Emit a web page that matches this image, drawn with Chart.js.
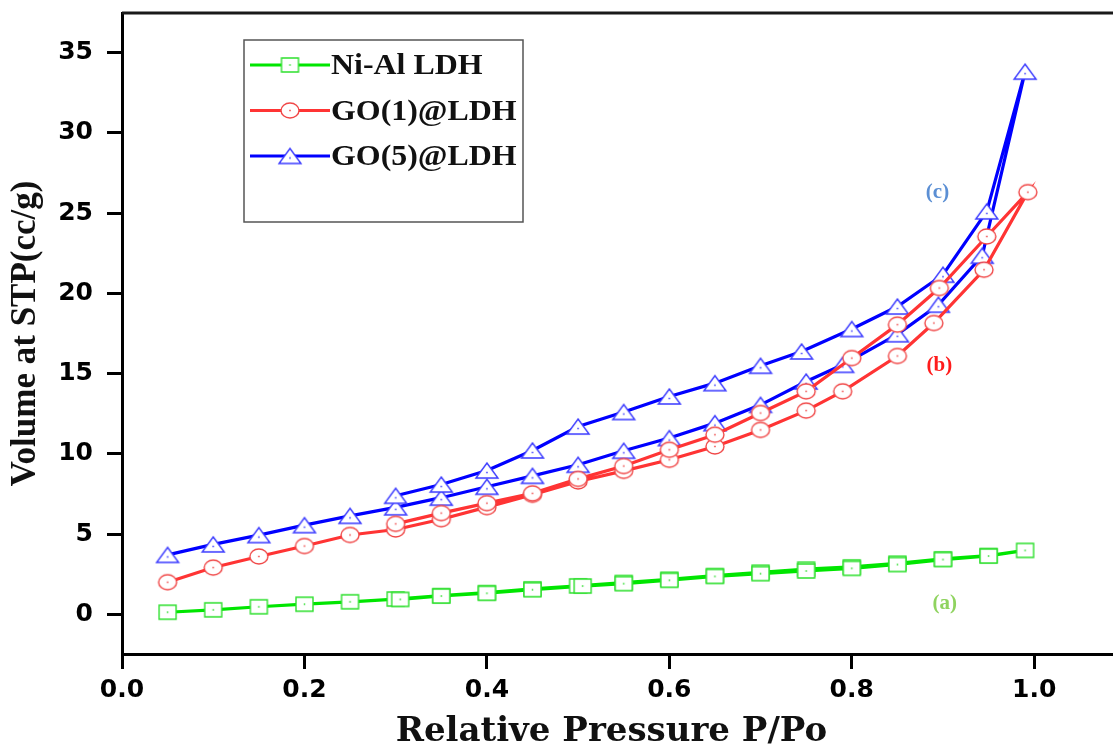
<!DOCTYPE html>
<html>
<head>
<meta charset="utf-8">
<title>BET isotherms</title>
<script src="https://cdn.jsdelivr.net/npm/chart.js@4.4.1/dist/chart.umd.min.js"></script>
<style>
  html, body { margin: 0; padding: 0; background: #fff; }
  #wrap { width: 1113px; height: 746px; position: relative; }
</style>
</head>
<body>
<div id="wrap"><canvas id="isoChart"></canvas></div>
<script>
// Ni-Al LDH (a)
const pNiAlAds = [0.05, 0.10, 0.15, 0.20, 0.25, 0.30, 0.35, 0.40, 0.45, 0.50, 0.55, 0.60, 0.65, 0.70, 0.75, 0.80, 0.85, 0.90, 0.95, 0.99];
const vNiAlAds = [0.15, 0.30, 0.49, 0.65, 0.80, 0.97, 1.18, 1.37, 1.60, 1.79, 2.00, 2.20, 2.43, 2.64, 2.83, 2.97, 3.20, 3.47, 3.68, 4.00];
const pNiAlDes = [0.95, 0.90, 0.85, 0.80, 0.75, 0.70, 0.65, 0.60, 0.55, 0.505, 0.45, 0.40, 0.35, 0.305];
const vNiAlDes = [3.65, 3.43, 3.12, 2.88, 2.72, 2.55, 2.38, 2.14, 1.93, 1.78, 1.55, 1.33, 1.16, 0.95];

// GO(1)@LDH (b)
const pGO1Ads = [0.05, 0.10, 0.15, 0.20, 0.25, 0.30, 0.35, 0.40, 0.45, 0.50, 0.55, 0.60, 0.65, 0.70, 0.75, 0.79, 0.85, 0.89, 0.945, 0.993];
const vGO1Ads = [2.02, 2.93, 3.62, 4.27, 4.96, 5.30, 5.94, 6.69, 7.46, 8.29, 8.95, 9.64, 10.47, 11.50, 12.70, 13.90, 16.10, 18.15, 21.47, 26.30];
const pGO1Des = [0.948, 0.896, 0.85, 0.80, 0.75, 0.70, 0.65, 0.60, 0.55, 0.50, 0.45, 0.40, 0.35, 0.30];
const vGO1Des = [23.54, 20.33, 18.05, 15.97, 13.90, 12.55, 11.20, 10.26, 9.25, 8.45, 7.55, 6.94, 6.32, 5.65];

// GO(5)@LDH (c)
const pGO5Ads = [0.05, 0.10, 0.15, 0.20, 0.25, 0.30, 0.35, 0.40, 0.45, 0.50, 0.55, 0.60, 0.65, 0.70, 0.75, 0.79, 0.85, 0.895, 0.943, 0.99];
const vGO5Ads = [3.72, 4.37, 4.95, 5.57, 6.15, 6.68, 7.28, 7.96, 8.64, 9.33, 10.20, 10.99, 11.92, 13.06, 14.51, 15.55, 17.45, 19.29, 22.34, 33.80];
const pGO5Des = [0.948, 0.90, 0.85, 0.80, 0.745, 0.70, 0.65, 0.60, 0.55, 0.50, 0.45, 0.40, 0.35, 0.30];
const vGO5Des = [25.10, 21.16, 19.18, 17.78, 16.38, 15.49, 14.41, 13.58, 12.61, 11.71, 10.22, 8.97, 8.10, 7.40];

const seriesNames = ['Ni-Al LDH', 'GO(1)@LDH', 'GO(5)@LDH'];
const curveTags = ['(a)', '(b)', '(c)'];
const tagPos = [[0.902, 0.67], [0.896, 15.5], [0.894, 26.3]];
const xTicks = [0.0, 0.2, 0.4, 0.6, 0.8, 1.0];
const yTicks = [0, 5, 10, 15, 20, 25, 30, 35];

// hollow marker images (slightly wide, like the exported plot)
function makeMarker(shape, w, h, color) {
    const c = document.createElement('canvas');
    c.width = w + 4;
    c.height = h + 4;
    const g = c.getContext('2d');
    const cx = c.width / 2, cy = c.height / 2;
    g.beginPath();
    if (shape === 'square') {
        g.rect(cx - w / 2, cy - h / 2, w, h);
    } else if (shape === 'circle') {
        g.ellipse(cx, cy, w / 2, h / 2, 0, 0, Math.PI * 2);
    } else {
        g.moveTo(cx, cy - h / 2);
        g.lineTo(cx + w / 2, cy + h / 2);
        g.lineTo(cx - w / 2, cy + h / 2);
        g.closePath();
    }
    g.fillStyle = '#fff';
    g.fill();
    g.lineWidth = 1.4;
    g.strokeStyle = color;
    g.stroke();
    g.fillStyle = color;
    g.fillRect(cx - 0.75, cy - 0.75 + (shape === 'triangle' ? 2 : 0), 1.5, 1.5);
    return c;
}

const lineColors = ['#00e600', '#ff3434', '#0000ff'];
const markers = [
    makeMarker('square', 17, 14, '#2ee02e'),
    makeMarker('circle', 18, 15, '#f04848'),
    makeMarker('triangle', 22, 15, '#3a3aff')
];

function loop(pa, va, pd, vd) {
    const pts = [];
    pa.forEach(function(p, i) { pts.push({x: p, y: va[i]}); });
    pd.forEach(function(p, i) { pts.push({x: p, y: vd[i]}); });
    return pts;
}

const loops = [
    loop(pNiAlAds, vNiAlAds, pNiAlDes, vNiAlDes),
    loop(pGO1Ads, vGO1Ads, pGO1Des, vGO1Des),
    loop(pGO5Ads, vGO5Ads, pGO5Des, vGO5Des)
];

// legend box, curve tags and the frame lines running to the canvas edge
const decorations = {
    id: 'decorations',
    afterDraw: function(chart) {
        const ctx = chart.ctx;
        const area = chart.chartArea;
        const xs = chart.scales.x, ys = chart.scales.y;
        ctx.save();

        ctx.strokeStyle = '#1a1a1a';
        ctx.lineWidth = 3;
        ctx.beginPath();
        ctx.moveTo(area.left, area.top);
        ctx.lineTo(chart.width, area.top);
        ctx.stroke();
        ctx.strokeStyle = '#000';
        ctx.beginPath();
        ctx.moveTo(area.right - 2, area.bottom + 0.5);
        ctx.lineTo(chart.width, area.bottom + 0.5);
        ctx.stroke();

        ctx.strokeStyle = '#555';
        ctx.lineWidth = 1.5;
        ctx.strokeRect(244, 40, 279, 182);
        seriesNames.forEach(function(name, i) {
            const y = 65 + i * 45.5;
            ctx.strokeStyle = lineColors[i];
            ctx.lineWidth = 3;
            ctx.beginPath();
            ctx.moveTo(250, y);
            ctx.lineTo(330, y);
            ctx.stroke();
            const m = markers[i];
            ctx.drawImage(m, 290 - m.width / 2, y - m.height / 2);
            ctx.save();
            ctx.translate(331, y + 2);
            ctx.scale(1.1, 1);
            ctx.fillStyle = '#111';
            ctx.font = 'bold 29px "Liberation Serif"';
            ctx.textBaseline = 'middle';
            ctx.textAlign = 'left';
            ctx.fillText(name, 0, 0);
            ctx.restore();
        });

        const tagColors = ['#8fd35f', '#ff1c1c', '#5b8fd4'];
        ctx.font = 'bold 21px "Liberation Serif"';
        ctx.textAlign = 'center';
        ctx.textBaseline = 'middle';
        curveTags.forEach(function(t, i) {
            ctx.fillStyle = tagColors[i];
            ctx.fillText(t, xs.getPixelForValue(tagPos[i][0]), ys.getPixelForValue(tagPos[i][1]));
        });
        ctx.restore();
    }
};

const axisGrid = {
    drawOnChartArea: false,
    drawTicks: true,
    tickLength: 15,
    tickWidth: 3,
    tickColor: '#000'
};
const tickFont = {family: 'DejaVu Sans', weight: 'bold', size: 25};

const isoChart = new Chart(document.getElementById('isoChart'), {
    type: 'scatter',
    data: {
        datasets: loops.map(function(pts, i) {
            return {
                label: seriesNames[i],
                data: pts,
                showLine: true,
                borderColor: lineColors[i],
                borderWidth: 3.2,
                tension: 0,
                pointStyle: markers[i],
                pointRadius: 9,
                pointHoverRadius: 9
            };
        })
    },
    options: {
        responsive: true,
        maintainAspectRatio: false,
        animation: false,
        layout: {padding: {top: 13, right: 0, left: 0, bottom: 0}},
        plugins: {
            legend: {display: false},
            tooltip: {enabled: false}
        },
        scales: {
            x: {
                type: 'linear',
                min: 0,
                max: 1.073,
                afterFit: function(s) {
                    s.height = 92;
                    s.paddingLeft = 0;
                    s.paddingRight = 0;
                },
                afterBuildTicks: function(s) { s.ticks = xTicks.map(function(v) { return {value: v}; }); },
                border: {display: true, width: 3, color: '#000'},
                grid: axisGrid,
                ticks: {
                    color: '#000',
                    font: tickFont,
                    padding: 6,
                    maxRotation: 0,
                    callback: function(v) { return Number(v).toFixed(1); }
                },
                title: {
                    display: true,
                    text: 'Relative Pressure P/Po',
                    color: '#111',
                    font: {family: 'DejaVu Serif', weight: 'bold', size: 34, lineHeight: 0.8},
                    padding: {top: 0, bottom: 0}
                }
            },
            y: {
                min: -2.45,
                max: 37.45,
                afterFit: function(s) {
                    s.width = 122;
                    s.paddingTop = 0;
                    s.paddingBottom = 0;
                },
                afterBuildTicks: function(s) { s.ticks = yTicks.map(function(v) { return {value: v}; }); },
                border: {display: true, width: 3, color: '#000'},
                grid: axisGrid,
                ticks: {
                    color: '#000',
                    font: tickFont,
                    padding: 14
                },
                title: {
                    display: true,
                    text: 'Volume at STP(cc/g)',
                    color: '#111',
                    font: {family: 'Liberation Serif', weight: 'bold', size: 35},
                    padding: {top: 5, bottom: 0}
                }
            }
        }
    },
    plugins: [decorations]
});
</script>
</body>
</html>
